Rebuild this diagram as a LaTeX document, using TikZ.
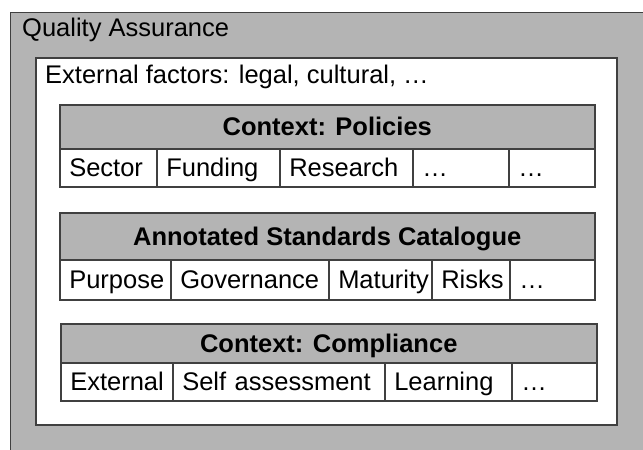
\documentclass[tikz,border=0pt]{standalone}
\usepackage{fontspec}
\setmainfont{Liberation Sans}
\definecolor{boxgray}{RGB}{180,180,180}
\definecolor{linec}{RGB}{64,64,64}
\begin{document}
\begin{tikzpicture}[x=1pt,y=-1pt,
  every node/.style={font=\fontsize{25.5}{30}\selectfont},
  frame/.style={draw=linec, line width=1.5pt, anchor=north west, inner sep=0pt},
  cell/.style={draw=linec, line width=1.5pt, fill=white, anchor=north west, inner xsep=9.5pt, inner ysep=0pt, text height=18.3pt, text depth=0pt, align=left},
  head/.style={draw=linec, line width=1.5pt, fill=boxgray, anchor=north west, inner sep=0pt, text height=18.3pt, text depth=0pt, font=\fontsize{25.5}{30}\selectfont\bfseries},
  lbl/.style={anchor=base west, inner sep=0pt}]
\useasboundingbox (0,0) rectangle (643,450);
\clip (0,0) rectangle (643,450);
\fill[white] (0,0) rectangle (643,450);
% outer frame
\node[frame, fill=boxgray, line width=1.2pt, minimum width=660pt, minimum height=470pt] (qa) at (10,12) {};
\node[lbl] (qat) at (22,36) {Quality Assurance};
% external factors frame
\node[frame, fill=white, minimum width=581pt, minimum height=367pt] (ext) at (35,57) {};
\node[lbl] (extt) at (45,83) {External factors: legal, cultural, …};
% Policies
\node[head, minimum width=535pt, minimum height=44pt] (pol) at (59,104) {Context: Policies};
\node[cell, minimum height=38pt, text width=78pt] (p1) at (59,148) {\mbox{Sector}};
\node[cell, minimum height=38pt, text width=104pt] (p2) at (156,148) {\mbox{Funding}};
\node[cell, minimum height=38pt, text width=114pt] (p3) at (279,148) {\mbox{Research}};
\node[cell, minimum height=38pt, text width=77pt] (p4) at (412,148) {\mbox{…}};
\node[cell, minimum height=38pt, text width=67pt] (p5) at (508,148) {\mbox{…}};
% Standards catalogue
\node[head, minimum width=535pt, minimum height=47pt] (cat) at (59,212) {Annotated Standards Catalogue};
\node[cell, minimum height=40pt, text width=92pt] (c1) at (59,259) {\mbox{Purpose}};
\node[cell, minimum height=40pt, text width=139pt] (c2) at (170,259) {\mbox{Governance}};
\node[cell, minimum height=40pt, text width=84pt] (c3) at (328,259) {\mbox{Maturity}};
\node[cell, minimum height=40pt, text width=59pt] (c4) at (431,259) {\mbox{Risks}};
\node[cell, minimum height=40pt, text width=66pt] (c5) at (509,259) {\mbox{…}};
% Compliance
\node[head, minimum width=536pt, minimum height=39pt] (com) at (60,323) {Context: Compliance};
\node[cell, minimum height=38pt, text width=93pt] (m1) at (60,362) {\mbox{External}};
\node[cell, minimum height=38pt, text width=193pt] (m2) at (172,362) {\mbox{Self assessment}};
\node[cell, minimum height=38pt, text width=108pt] (m3) at (384,362) {\mbox{Learning}};
\node[cell, minimum height=38pt, text width=66pt] (m4) at (511,362) {\mbox{…}};
\end{tikzpicture}
\end{document}
